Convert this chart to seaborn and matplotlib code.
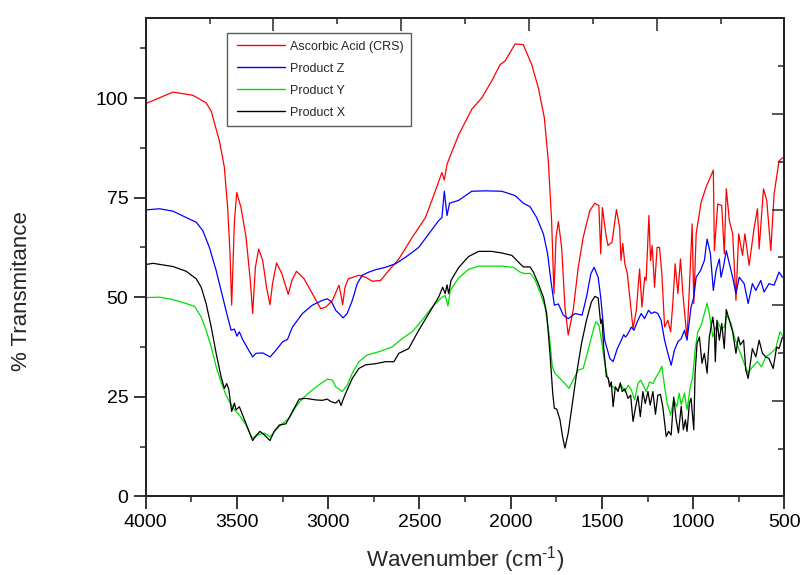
import matplotlib
matplotlib.use("Agg")
import matplotlib.pyplot as plt
import seaborn as sns
import pandas as pd
import numpy as np

# ---------------- data ----------------
red_wn = [4000, 3851, 3742, 3669, 3641, 3596, 3569, 3551, 3538, 3529, 3514, 3501, 3478, 3450, 3427,
          3414, 3399, 3381, 3359, 3338, 3319, 3305, 3283, 3254, 3219, 3199, 3174, 3132, 3087, 3041,
          3013, 2977, 2941, 2932, 2921, 2908, 2890, 2832, 2795, 2759, 2713, 2668, 2613, 2540, 2467,
          2413, 2377, 2364, 2349, 2286, 2213, 2158, 2104, 2058, 2031, 1976, 1931, 1885, 1849, 1816,
          1794, 1776, 1763, 1752, 1739, 1721, 1703, 1685, 1658, 1630, 1603, 1567, 1539, 1517, 1507,
          1498, 1476, 1467, 1445, 1421, 1403, 1396, 1386, 1375, 1361, 1348, 1330, 1312, 1294, 1281,
          1266, 1258, 1243, 1234, 1225, 1212, 1198, 1185, 1172, 1157, 1139, 1124, 1112, 1099, 1084,
          1070, 1057, 1034, 1021, 1006, 997, 984, 957, 930, 890, 884, 866, 844, 830, 819, 802, 784,
          766, 751, 730, 717, 694, 666, 648, 639, 615, 597, 575, 557, 530, 511]
red_t = [98.6, 101.5, 100.7, 98.8, 96.7, 89.2, 82.6, 72.5, 61.0, 48.0, 69.0, 76.3, 72.5, 65.0, 54.2,
         45.9, 57.5, 62.1, 59.2, 52.5, 48.1, 53.4, 58.6, 55.9, 50.7, 54.2, 56.5, 54.6, 50.9, 47.1,
         47.5, 49.2, 53.0, 51.0, 48.1, 52.5, 54.6, 55.5, 55.0, 54.0, 54.2, 56.7, 59.6, 65.0, 70.0,
         76.7, 81.3, 79.4, 83.4, 90.7, 97.2, 100.1, 104.3, 108.4, 109.3, 113.6, 113.4, 108.4, 102.6, 95.1,
         84.2, 69.2, 50.9, 65.0, 69.0, 62.5, 47.5, 40.5, 46.7, 57.5, 65.0, 71.7, 73.6, 73.0, 60.9,
         72.5, 65.0, 63.0, 63.8, 72.0, 67.5, 59.2, 63.5, 58.4, 55.9, 50.0, 42.1, 46.7, 57.1, 47.5,
         55.0, 54.2, 70.5, 59.2, 63.0, 52.5, 62.5, 62.5, 55.9, 42.5, 44.2, 41.3, 48.4, 58.4, 50.9,
         59.6, 50.9, 39.6, 52.5, 68.4, 48.4, 65.9, 73.8, 77.6, 81.9, 61.7, 73.4, 73.0, 60.9, 77.2, 69.2, 65.9,
         49.2, 65.9, 60.5, 65.9, 58.0, 67.5, 72.2, 62.1, 77.2, 74.2, 61.7, 75.9, 84.2, 85.0]

blue_wn = [4000, 3924, 3851, 3778, 3723, 3687, 3651, 3614, 3578, 3551, 3532, 3514, 3500, 3487, 3469,
           3441, 3414, 3396, 3359, 3318, 3286, 3250, 3223, 3196, 3141, 3087, 3032, 3005, 2981, 2959,
           2941, 2919, 2896, 2868, 2841, 2814, 2777, 2740, 2686, 2631, 2577, 2504, 2449, 2395, 2377,
           2364, 2349, 2335, 2286, 2213, 2140, 2049, 1976, 1931, 1894, 1858, 1821, 1798, 1780, 1761,
           1739, 1712, 1685, 1648, 1609, 1585, 1561, 1543, 1521, 1507, 1485, 1457, 1439, 1416, 1394,
           1381, 1372, 1363, 1339, 1325, 1303, 1285, 1267, 1245, 1230, 1212, 1194, 1176, 1157, 1139,
           1121, 1103, 1084, 1066, 1048, 1034, 1012, 997, 984, 960, 939, 924, 906, 890, 875, 857, 848,
           835, 819, 802, 784, 766, 748, 721, 699, 676, 657, 630, 612, 585, 557, 530, 511]
blue_t = [71.9, 72.2, 71.6, 70.0, 68.8, 66.7, 62.5, 56.7, 50.0, 45.0, 41.7, 42.0, 40.2, 41.3, 39.4,
          37.1, 35.0, 35.9, 36.0, 35.0, 36.7, 38.8, 39.4, 42.5, 45.9, 48.0, 49.2, 49.6, 48.8, 46.7,
          45.9, 44.8, 45.9, 49.2, 53.4, 55.5, 56.3, 56.9, 57.5, 58.4, 60.0, 62.5, 65.9, 69.2, 70.0,
          76.6, 70.5, 73.6, 74.3, 76.6, 76.7, 76.6, 75.5, 73.6, 72.7, 70.0, 65.9, 60.9, 54.2, 48.0,
          48.3, 45.5, 44.6, 45.9, 45.5, 50.0, 55.9, 57.5, 55.0, 50.0, 39.2, 34.6, 33.8, 37.1, 39.2,
          40.6, 40.0, 40.4, 42.5, 41.7, 44.2, 45.9, 44.6, 46.7, 45.9, 46.3, 45.9, 44.2, 39.2, 35.9,
          32.9, 36.7, 38.8, 39.6, 41.7, 39.2, 47.5, 50.0, 55.0, 56.7, 59.2, 64.6, 60.9, 51.7, 56.7, 59.6, 55.0,
          57.5, 61.7, 58.4, 55.0, 50.9, 55.0, 53.4, 48.4, 53.4, 51.7, 54.2, 51.3, 53.4, 53.0, 56.3, 55.0]

green_wn = [4000, 3924, 3851, 3778, 3732, 3696, 3669, 3641, 3614, 3587, 3560, 3542, 3514, 3487, 3450,
            3418, 3387, 3350, 3319, 3286, 3250, 3214, 3177, 3141, 3087, 3041, 3005, 2977, 2959, 2923,
            2896, 2868, 2832, 2786, 2722, 2650, 2595, 2540, 2486, 2431, 2377, 2359, 2344, 2331, 2286,
            2231, 2176, 2049, 1985, 1949, 1922, 1894, 1870, 1840, 1812, 1790, 1772, 1758, 1730, 1703,
            1681, 1658, 1630, 1603, 1576, 1548, 1534, 1517, 1503, 1485, 1470, 1452, 1430, 1412, 1394,
            1375, 1357, 1339, 1321, 1303, 1288, 1270, 1258, 1239, 1221, 1203, 1185, 1172, 1157, 1143,
            1124, 1107, 1090, 1077, 1066, 1048, 1034, 1016, 1003, 990, 975, 957, 939, 924, 912, 893,
            881, 866, 848, 830, 815, 793, 775, 748, 721, 699, 676, 648, 626, 603, 575, 548, 525, 511]
green_t = [49.9, 50.0, 49.4, 48.4, 47.7, 45.0, 41.7, 37.5, 32.5, 28.7, 25.4, 23.8, 21.7, 20.4, 17.9,
           14.6, 15.4, 15.9, 14.9, 16.7, 18.3, 19.6, 22.5, 24.6, 26.7, 28.3, 29.4, 29.2, 27.5, 26.3,
           27.9, 30.9, 33.8, 35.5, 36.3, 37.5, 39.6, 41.3, 44.2, 47.5, 50.0, 50.4, 47.8, 51.7, 54.8,
           57.0, 57.8, 57.8, 57.5, 56.3, 55.9, 56.0, 54.6, 51.3, 47.5, 40.9, 32.5, 30.9, 29.6, 28.3,
           27.1, 29.2, 31.7, 32.1, 36.7, 41.7, 43.8, 43.0, 39.2, 33.4, 30.0, 27.9, 27.1, 26.7, 27.9,
           26.3, 27.9, 26.7, 24.2, 28.3, 29.2, 27.5, 26.3, 28.7, 28.3, 30.0, 31.3, 32.7, 27.5, 23.4,
           20.4, 24.2, 22.5, 25.9, 23.0, 25.9, 21.7, 27.5, 30.0, 36.7, 41.3, 42.9, 45.9, 48.5, 45.9, 40.0,
           41.7, 43.8, 42.1, 42.5, 45.4, 43.4, 40.0, 36.7, 33.4, 30.9, 32.5, 33.8, 32.5, 35.0, 35.9, 37.1, 41.3, 40.4]

black_wn = [4000, 3960, 3851, 3778, 3723, 3696, 3669, 3641, 3614, 3587, 3569, 3556, 3545, 3529, 3514,
            3505, 3487, 3469, 3441, 3414, 3392, 3374, 3350, 3319, 3296, 3268, 3232, 3196, 3159, 3123,
            3068, 3032, 3005, 2986, 2959, 2941, 2930, 2919, 2905, 2868, 2832, 2795, 2740, 2686, 2640,
            2613, 2559, 2504, 2449, 2395, 2373, 2359, 2349, 2340, 2327, 2286, 2231, 2176, 2104, 2049,
            1994, 1958, 1931, 1894, 1876, 1849, 1821, 1803, 1785, 1770, 1761, 1748, 1730, 1716, 1703,
            1685, 1667, 1639, 1612, 1585, 1558, 1539, 1521, 1507, 1500, 1491, 1476, 1467, 1458, 1449,
            1439, 1427, 1412, 1400, 1389, 1375, 1357, 1343, 1330, 1312, 1303, 1290, 1276, 1263, 1248,
            1236, 1221, 1207, 1194, 1180, 1167, 1148, 1135, 1121, 1107, 1094, 1081, 1066, 1054, 1043,
            1034, 1021, 1012, 997, 990, 979, 966, 952, 939, 924, 912, 893, 884, 879, 870, 857, 844, 830,
            819, 802, 784, 766, 753, 742, 724, 712, 699, 676, 657, 639, 621, 603, 585, 562, 543, 530, 511]
black_t = [58.2, 58.5, 57.7, 56.5, 54.6, 52.5, 48.4, 42.5, 35.9, 30.0, 27.1, 28.3, 26.9, 21.3, 23.4,
           21.7, 22.5, 20.4, 17.1, 14.0, 15.4, 16.3, 15.4, 14.0, 16.3, 17.9, 18.2, 21.3, 24.4, 24.6,
           24.2, 24.1, 24.4, 23.8, 23.4, 24.2, 22.8, 24.2, 25.8, 29.6, 32.1, 33.0, 33.3, 33.8, 33.8,
           35.9, 37.1, 41.7, 45.9, 50.0, 52.5, 50.9, 53.1, 50.9, 54.2, 57.4, 60.2, 61.5, 61.5, 61.1,
           60.5, 58.8, 57.6, 57.6, 56.3, 53.4, 50.0, 45.9, 35.9, 25.9, 22.1, 21.9, 19.2, 15.0, 12.1,
           15.9, 21.7, 30.9, 38.4, 44.2, 48.8, 50.2, 49.8, 43.4, 44.5, 37.5, 30.0, 29.8, 27.5, 28.7,
           22.5, 27.5, 26.3, 28.5, 26.3, 27.0, 24.6, 25.4, 18.8, 23.3, 25.2, 20.0, 26.3, 23.3, 26.3,
           22.9, 26.3, 20.6, 25.4, 25.6, 22.5, 15.0, 16.3, 15.4, 24.9, 19.4, 15.9, 22.6, 16.7, 19.2,
           16.3, 23.4, 24.6, 16.7, 30.9, 38.4, 40.0, 33.4, 35.9, 30.9, 40.0, 45.0, 41.7, 33.8, 44.2, 39.2, 43.4, 37.1,
           46.9, 44.2, 41.3, 35.9, 40.0, 38.0, 39.2, 31.7, 29.6, 37.1, 35.0, 39.2, 35.9, 35.0, 34.6, 32.1, 37.5, 37.1, 40.0]

series_names = ["Ascorbic Acid (CRS)", "Product Z", "Product Y", "Product X"]
series_colors = ["#ff0000", "#0000ff", "#00e000", "#000000"]

frames = []
for name, wn, t in zip(series_names,
                       [red_wn, blue_wn, green_wn, black_wn],
                       [red_t, blue_t, green_t, black_t]):
    frames.append(pd.DataFrame({"wn": wn, "T": t, "series": name}))
df = pd.concat(frames, ignore_index=True)

# ---------------- plot ----------------
sns.set_theme(style="ticks")
plt.rcParams["font.family"] = ["Liberation Sans", "DejaVu Sans"]
plt.rcParams["mathtext.fontset"] = "custom"
plt.rcParams["mathtext.rm"] = "Liberation Sans"
plt.rcParams["mathtext.it"] = "Liberation Sans:italic"
plt.rcParams["mathtext.bf"] = "Liberation Sans:bold"

W, H = 803, 575
x0, x1, y0, y1 = 145.7, 784.5, 18.4, 496.3
fig = plt.figure(figsize=(W / 100, H / 100), dpi=100)
ax = fig.add_axes([x0 / W, 1 - y1 / H, (x1 - x0) / W, (y1 - y0) / H])

sns.lineplot(data=df, x="wn", y="T", hue="series", hue_order=series_names,
             palette=dict(zip(series_names, series_colors)), sort=False,
             estimator=None, linewidth=0.9, ax=ax)

ax.set_xlim(4000, 500)
ax.set_ylim(0, 120)
ax.set_xticks([4000, 3500, 3000, 2500, 2000, 1500, 1000, 500])
ax.set_xticks(np.arange(500, 4001, 250), minor=True)
ax.set_yticks([0, 25, 50, 75, 100])
ax.set_yticks(np.arange(0, 113, 12.5), minor=True)
ax.tick_params(axis="both", which="major", direction="out", length=9, width=1.1,
               labelsize=14, pad=3.5, colors="black")
ax.tick_params(axis="both", which="minor", direction="out", length=4.5, width=1.1)
for s in ax.spines.values():
    s.set_linewidth(1.3)
    s.set_color("black")
    s.set_visible(True)

# inward ticks on top and right (ten divisions, long at even ones)
axt = ax.twiny()
axt.set_xlim(0, 10)
axt.set_xticks(np.arange(0, 11, 2))
axt.set_xticks(np.arange(1, 10, 2), minor=True)
axt.tick_params(axis="x", which="major", direction="in", length=9, width=1.1, labeltop=False)
axt.tick_params(axis="x", which="minor", direction="in", length=4.5, width=1.1)
axr = ax.twinx()
axr.set_ylim(0, 10)
axr.set_yticks(np.arange(0, 11, 2))
axr.set_yticks(np.arange(1, 10, 2), minor=True)
axr.tick_params(axis="y", which="major", direction="in", length=9, width=1.1, labelright=False)
axr.tick_params(axis="y", which="minor", direction="in", length=4.5, width=1.1)
for a in (axt, axr):
    for s in a.spines.values():
        s.set_linewidth(1.3)

ax.set_xlabel(r"Wavenumber (cm$^{\text{-}1}$)", fontsize=16)
ax.set_ylabel("% Transmitance", fontsize=16)
ax.xaxis.set_label_coords(0.5, -0.1)
ax.yaxis.set_label_coords(-0.178, 0.43)

fs = 9
leg = ax.legend(loc="upper left", bbox_to_anchor=((227.3 - x0) / (x1 - x0), (y1 - 33.3) / (y1 - y0)),
                fontsize=fs, frameon=True, fancybox=False, handlelength=4.0, labelspacing=0.8,
                borderpad=0.6, handletextpad=0.38, borderaxespad=0)
leg.get_frame().set_edgecolor("#333333")
leg.get_frame().set_linewidth(1.0)
leg.set_title(None)
for line in leg.get_lines():
    yv = float(np.asarray(line.get_ydata())[0])
    line.set_linewidth(1.0)
    line.set_data([0.2 * fs, 4.0 * fs], [yv, yv])

fig.savefig("out.png", dpi=100)
